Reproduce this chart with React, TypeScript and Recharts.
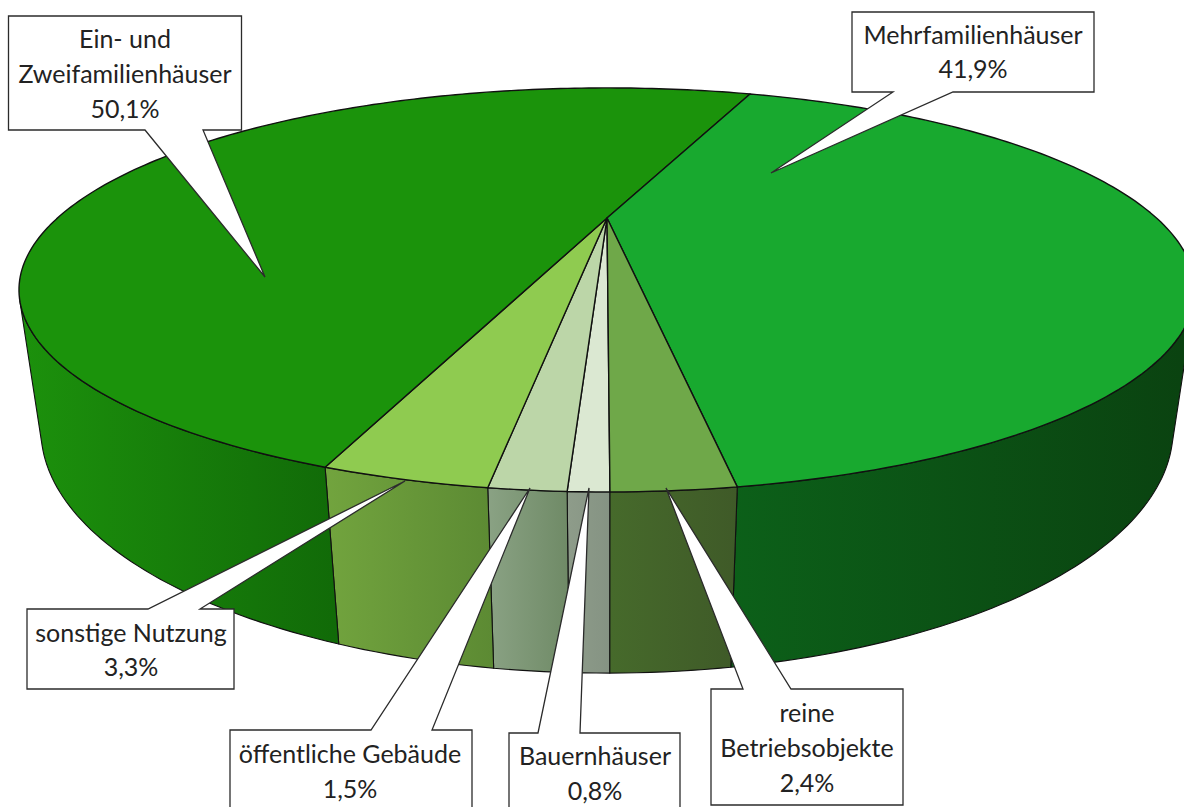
import React from 'react';
import { PieChart, Pie } from 'recharts';

// slices run clockwise from the front of the disc
const names = [
  'Bauernhäuser',
  'öffentliche Gebäude',
  'sonstige Nutzung',
  'Ein- und Zweifamilienhäuser',
  'Mehrfamilienhäuser',
  'reine Betriebsobjekte',
];
const shares = [0.8, 1.5, 3.3, 50.1, 41.9, 2.4];
const labelLines = [
  ['Bauernhäuser'],
  ['öffentliche Gebäude'],
  ['sonstige Nutzung'],
  ['Ein- und', 'Zweifamilienhäuser'],
  ['Mehrfamilienhäuser'],
  ['reine', 'Betriebsobjekte'],
];

const topColors = ['#dbe8d2', '#bcd6a8', '#8fcb50', '#1b930b', '#18a92f', '#6fa849'];
const wallLeftColors = ['#8e9c8a', '#8aa284', '#72a43e', '#1c910c', '#0c6019', '#466a2b'];
const wallRightColors = ['#859383', '#6f8a66', '#5c8a33', '#116a08', '#0a4210', '#3f5a28'];

const data = names.map((name, i) => ({ name, value: shares[i], lines: labelLines[i] }));

// callout boxes: rectangle, pointer base on its edge, pointer tip, text baselines
type Callout = {
  x: number;
  y: number;
  w: number;
  h: number;
  base: [number, number];
  tip: [number, number];
  textX: number;
  textY: number;
  lineGap: number;
};
const callouts: Callout[] = [
  { x: 509, y: 733, w: 171, h: 90, base: [538, 580], tip: [589, 488], textX: 595, textY: 765, lineGap: 35 },
  { x: 230, y: 730, w: 242, h: 90, base: [371, 432], tip: [530, 488], textX: 350, textY: 763, lineGap: 35 },
  { x: 27, y: 609, w: 207, h: 80, base: [148, 200], tip: [405, 481], textX: 131, textY: 642, lineGap: 34 },
  { x: 8.5, y: 16, w: 233, h: 114, base: [145, 203], tip: [265, 277], textX: 125, textY: 48, lineGap: 35 },
  { x: 852, y: 12, w: 242, h: 80, base: [893, 953], tip: [771, 173], textX: 973, textY: 44, lineGap: 34 },
  { x: 711, y: 689, w: 192, h: 116, base: [743, 791], tip: [666, 488], textX: 807, textY: 722, lineGap: 35 },
];

// perspective of the disc: unit circle (u right, v towards the viewer), h = wall depth
const originX = 607;
const scaleX = 549.5;
const scaleY = 98.8;
const apexY = 218;
const tiltW = 0.356;
const depthY = 139.5;
const depthW = 0.0339;

// first slice starts a touch right of the exact front
const frontAngle = 270.2;

function project(deg: number, h: number) {
  const rad = (deg * Math.PI) / 180;
  const u = Math.cos(rad);
  const v = -Math.sin(rad);
  const w = 1 - tiltW * v + depthW * h;
  return {
    x: originX + (scaleX * u) / w,
    y: (scaleY * v + apexY + depthY * h) / w,
  };
}

// the wall is only visible up to this many degrees either side of the front
const visibleArc = 66.3;

function arcPoints(fromDeg: number, toDeg: number, h: number) {
  const steps = Math.max(2, Math.ceil(Math.abs(toDeg - fromDeg)));
  const pts = [];
  for (let i = 0; i <= steps; i++) {
    const p = project(fromDeg + ((toDeg - fromDeg) * i) / steps, h);
    pts.push(`${p.x.toFixed(2)},${p.y.toFixed(2)}`);
  }
  return pts;
}

function TopFace(props: any) {
  const { startAngle, endAngle, index } = props;
  const apex = `${originX},${apexY}`;
  const pts = [apex, ...arcPoints(startAngle, endAngle, 0)];
  return <polygon points={pts.join(' ')} fill={topColors[index]} stroke="#111111" strokeWidth={1.4} strokeLinejoin="round" />;
}

function WallFace(props: any) {
  const { startAngle, endAngle, index } = props;
  // angles measured clockwise from the front
  const a0 = 270 - startAngle;
  const a1 = 270 - endAngle;
  const ranges = [
    [Math.max(a0, -visibleArc), Math.min(a1, visibleArc)],
    [Math.max(a0, 360 - visibleArc), Math.min(a1, 360 + visibleArc)],
  ].filter((r) => r[1] > r[0]);
  const id = `wall-${index}`;
  return (
    <g>
      <defs>
        <linearGradient id={id} x1="0" y1="0" x2="1" y2="0">
          <stop offset="0%" stopColor={wallLeftColors[index]} />
          <stop offset="100%" stopColor={wallRightColors[index]} />
        </linearGradient>
      </defs>
      {ranges.map((r, i) => {
        const top = arcPoints(270 - r[0], 270 - r[1], 0);
        const bottom = arcPoints(270 - r[1], 270 - r[0], 1);
        return (
          <polygon
            key={i}
            points={[...top, ...bottom].join(' ')}
            fill={`url(#${id})`}
            stroke="#111111"
            strokeWidth={1.1}
            strokeLinejoin="round"
          />
        );
      })}
    </g>
  );
}

function formatShare(value: number) {
  return `${value.toFixed(1).replace('.', ',')}%`;
}

function CalloutLabel(props: any) {
  const { index, value } = props;
  const c = callouts[index];
  const lines: string[] = [...labelLines[index], formatShare(shares[index] ?? value)];
  const right = c.x + c.w;
  const bottom = c.y + c.h;
  // pointer leaves from the top edge when the box sits below its tip
  const d =
    c.tip[1] < c.y
      ? `M${c.x} ${c.y} H${c.base[0]} L${c.tip[0]} ${c.tip[1]} L${c.base[1]} ${c.y} H${right} V${bottom} H${c.x} Z`
      : `M${c.x} ${c.y} H${right} V${bottom} H${c.base[1]} L${c.tip[0]} ${c.tip[1]} L${c.base[0]} ${bottom} H${c.x} Z`;
  return (
    <g>
      <path d={d} fill="#ffffff" stroke="#2b2b2b" strokeWidth={1.3} strokeLinejoin="miter" />
      {lines.map((line, i) => (
        <text
          key={i}
          x={c.textX}
          y={c.textY + i * c.lineGap}
          textAnchor="middle"
          fontFamily="Lato, sans-serif"
          fontSize={25}
          fill="#222222"
        >
          {line}
        </text>
      ))}
    </g>
  );
}

export default function App() {
  return (
    <div style={{ position: 'absolute', left: 0, top: 0, width: 1184, height: 807, overflow: 'hidden', background: '#fff' }}>
      <PieChart width={1184} height={807} margin={{ top: 0, right: 0, bottom: 0, left: 0 }}>
        <Pie
          data={data}
          dataKey="value"
          nameKey="name"
          cx={607}
          cy={290}
          outerRadius={200}
          startAngle={frontAngle}
          endAngle={frontAngle - 360}
          stroke="none"
          shape={WallFace}
          isAnimationActive={false}
        />
        <Pie
          data={data}
          dataKey="value"
          nameKey="name"
          cx={607}
          cy={290}
          outerRadius={200}
          startAngle={frontAngle}
          endAngle={frontAngle - 360}
          stroke="none"
          shape={TopFace}
          label={CalloutLabel}
          labelLine={false}
          isAnimationActive={false}
        />
      </PieChart>
    </div>
  );
}
